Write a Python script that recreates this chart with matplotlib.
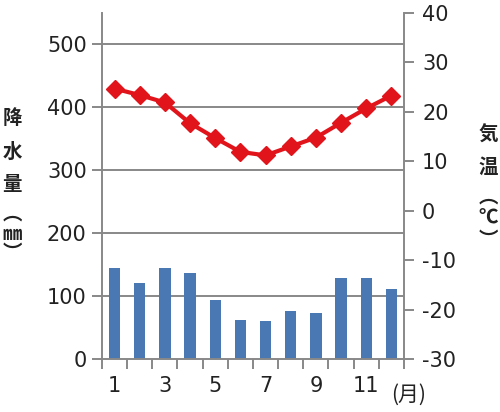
import matplotlib
matplotlib.use("Agg")
import matplotlib.pyplot as plt
import numpy as np

plt.rcParams['font.family'] = ['Noto Sans CJK JP', 'DejaVu Sans']

months = [1, 2, 3, 4, 5, 6, 7, 8, 9, 10, 11, 12]
precip = [145, 121, 144, 137, 94, 62, 60, 77, 73, 128, 128, 111]
temp = [24.7, 23.4, 21.9, 17.7, 14.7, 11.9, 11.2, 13.0, 14.8, 17.8, 20.7, 23.3]
month_labels = ['1', '', '3', '', '5', '', '7', '', '9', '', '11', '']
left_ticks = [0, 100, 200, 300, 400, 500]
right_ticks = [-30, -20, -10, 0, 10, 20, 30, 40]

gray = '#888888'
numfont = dict(family='DejaVu Sans', size=15, weight='normal')
fig = plt.figure(figsize=(5, 4.12), dpi=100)
ax = fig.add_axes([0.204, 0.1286, 0.604, 0.8398])
x = np.arange(len(months))
ax.bar(x, precip, width=0.45, color='#4A78B2', zorder=2)
ax.set_xlim(-0.5, len(months) - 0.5)
ax.set_ylim(0, 550)
ax.set_yticks(left_ticks)
ax.set_yticklabels([str(v) for v in left_ticks], fontdict=numfont, color='#222222')
for v in left_ticks[1:]:
    ax.axhline(v, color=gray, lw=1.4, zorder=1)
ax.set_xticks(x)
ax.set_xticklabels(month_labels, fontdict=numfont, color='#222222')
ax.tick_params(axis='x', which='major', length=0, pad=12)
ax.set_xticks(np.arange(-0.5, len(months)), minor=True)
ax.tick_params(axis='x', which='minor', length=7, width=1.4, color=gray, direction='out')
ax.tick_params(axis='y', length=7, width=1.4, color=gray, direction='out', pad=4)
for s in ['top', 'right']:
    ax.spines[s].set_visible(False)
for s in ['left', 'bottom']:
    ax.spines[s].set_color(gray)
    ax.spines[s].set_linewidth(1.4)

ax2 = ax.twinx()
ax2.plot(x, temp, color='#E2141B', lw=3, marker='D', markersize=9, zorder=3)
ax2.set_ylim(-30, 40)
ax2.set_yticks(right_ticks)
ax2.set_yticklabels([str(v) for v in right_ticks], fontdict=numfont, color='#222222')
ax2.tick_params(axis='y', length=7, width=1.4, color=gray, direction='out', pad=6)
for s in ['top', 'left', 'bottom']:
    ax2.spines[s].set_visible(False)
ax2.spines['right'].set_color(gray)
ax2.spines['right'].set_linewidth(1.4)

def put(ch, px, py, size=14):
    fig.text(px / 500, 1 - py / 412, ch, ha='center', va='center',
             fontsize=size, fontweight='bold', color='#222222')

for ch, py in zip(['降', '水', '量', '︵', '㎜', '︶'], [118, 152, 184, 214, 234, 253]):
    put(ch, 12, py)
for ch, py in zip(['気', '温', '︵', '℃', '︶'], [135, 167, 197, 218, 240]):
    put(ch, 488, py)
fig.text(409 / 500, 1 - 395 / 412, '(月)', ha='center', va='center', fontsize=15, color='#222222')

fig.savefig('out.png', dpi=100)
